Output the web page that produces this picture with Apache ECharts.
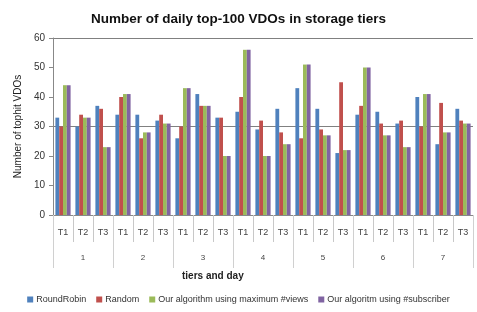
<!DOCTYPE html>
<html lang="en">
<head>
    <meta charset="UTF-8">
    <title>Number of daily top-100 VDOs</title>
    <script src="https://cdn.jsdelivr.net/npm/echarts@6/dist/echarts.min.js" type="text/javascript"></script>
    <style>
        html, body { margin: 0; padding: 0; background: #fff; }
    </style>
</head>
<body>
<div id="vdo" style="width: 477px;height:312px;"></div>
</body>

<script type="text/javascript">
    // tiers repeated for each day
    var tiers = ['T1','T2','T3','T1','T2','T3','T1','T2','T3','T1','T2','T3','T1','T2','T3','T1','T2','T3','T1','T2','T3'];
    var days = ['1','2','3','4','5','6','7'];

    var roundRobin = [33,30,37, 34,34,32, 26,41,33, 35,29,36, 43,36,21, 34,35,31, 40,24,36];
    var random     = [30,34,36, 40,26,34, 30,37,33, 40,32,28, 26,29,45, 37,31,32, 30,38,32];
    var maxViews   = [44,33,23, 41,28,31, 43,37,20, 56,20,24, 51,27,22, 50,27,23, 41,28,31];
    var subscriber = [44,33,23, 41,28,31, 43,37,20, 56,20,24, 51,27,22, 50,27,23, 41,28,31];

    // major gridlines in the original only at these values
    var gridValues = [30, 60];

    var names = ['RoundRobin', 'Random', 'Our algorithm using maximum #views', 'Our algoritm using #subscriber'];
    var colors = ['#4F81BD', '#C0504D', '#9BBB59', '#8064A2'];

    var chart = echarts.init(document.getElementById('vdo'));
    var font = 'Liberation Sans';

    function bar(name, data) {
        return {
            name: name,
            type: 'bar',
            data: data,
            barGap: 0,
            barCategoryGap: '24%'
        };
    }

    var series = [
        bar(names[0], roundRobin),
        bar(names[1], random),
        bar(names[2], maxViews),
        bar(names[3], subscriber)
    ];
    series[0].markLine = {
        silent: true,
        symbol: 'none',
        z: 0,
        label: { show: false },
        lineStyle: { color: '#808080', type: 'solid', width: 1 },
        data: gridValues.map(function (v) { return { yAxis: v }; })
    };

    chart.setOption({
        animation: false,
        color: colors,
        textStyle: { fontFamily: font },
        title: {
            text: 'Number of daily top-100 VDOs in storage tiers',
            left: 'center',
            top: 7,
            textStyle: { fontSize: 13.5, fontWeight: 'bold', color: '#111', fontFamily: font }
        },
        legend: {
            data: names,
            bottom: 3,
            left: 'center',
            itemWidth: 6,
            itemHeight: 6,
            itemGap: 10,
            icon: 'rect',
            textStyle: { fontSize: 9, color: '#333', padding: [0, 0, 0, -2] }
        },
        grid: { left: 53, right: 4, top: 38, bottom: 97 },
        graphic: [{
            type: 'text',
            left: 182,
            top: 271,
            style: { text: 'tiers and day', font: 'bold 10px "Liberation Sans"', fill: '#222' }
        }],
        xAxis: [{
            type: 'category',
            data: tiers,
            position: 'bottom',
            axisLine: { show: true, lineStyle: { color: '#888' } },
            axisTick: { show: true, interval: 0, length: 27, lineStyle: { color: '#c8c8c8' } },
            axisLabel: { fontSize: 9, color: '#444', margin: 13, interval: 0 }
        }, {
            type: 'category',
            data: days,
            position: 'bottom',
            axisLine: { show: false },
            axisTick: { show: true, interval: 0, length: 53, lineStyle: { color: '#d0d0d0' } },
            axisLabel: { fontSize: 8, color: '#444', margin: 39 }
        }],
        yAxis: {
            type: 'value',
            name: 'Number of tophit VDOs',
            nameLocation: 'middle',
            nameGap: 30,
            nameTextStyle: { fontSize: 10, color: '#222' },
            min: 0,
            max: 60,
            interval: 10,
            axisLine: { show: true, lineStyle: { color: '#888' } },
            axisTick: { show: true, length: 4, lineStyle: { color: '#888' } },
            axisLabel: { fontSize: 10, color: '#333', margin: 8 },
            splitLine: { show: false }
        },
        series: series
    });
</script>
</html>
